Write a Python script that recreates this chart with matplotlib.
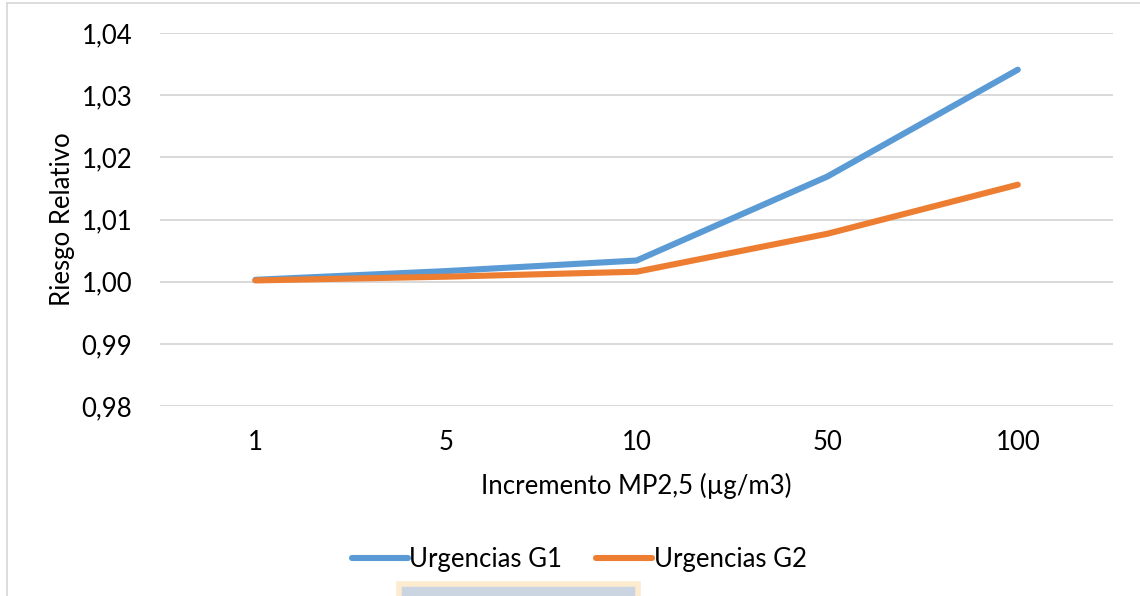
import matplotlib.pyplot as plt
from matplotlib.patches import Rectangle
from matplotlib.ticker import FuncFormatter

plt.rcParams['font.family'] = ['Lato', 'DejaVu Sans']

# Data
categorias = ['1', '5', '10', '50', '100']
urgencias_g1 = [1.0003, 1.0017, 1.0034, 1.0169, 1.0341]
urgencias_g2 = [1.0002, 1.0008, 1.0016, 1.0077, 1.0156]

fs = 18.5

fig = plt.figure(figsize=(11.4, 5.96), dpi=100)
ax = fig.add_axes([0.1404, 0.3188, 0.836, 0.6258])

x = range(len(categorias))
ax.plot(x, urgencias_g1, color='#5B9BD5', linewidth=4.4, solid_capstyle='round',
        solid_joinstyle='round', label='Urgencias G1')
ax.plot(x, urgencias_g2, color='#ED7D31', linewidth=4.4, solid_capstyle='round',
        solid_joinstyle='round', label='Urgencias G2')

ax.set_xlim(-0.5, len(categorias) - 0.5)
ax.set_ylim(0.98, 1.04)
ax.set_xticks(list(x))
ax.set_xticklabels(categorias)
ax.set_yticks([0.98, 0.99, 1.00, 1.01, 1.02, 1.03, 1.04])
ax.yaxis.set_major_formatter(FuncFormatter(lambda v, p: f'{v:.2f}'.replace('.', ',')))

ax.grid(axis='y', color='#D9D9D9', linewidth=1.4)
ax.set_axisbelow(True)
for s in ax.spines.values():
    s.set_visible(False)
ax.tick_params(length=0, labelsize=fs, colors='black')
ax.tick_params(axis='y', pad=20)
ax.tick_params(axis='x', pad=17)

ax.set_xlabel('Incremento MP2,5 (µg/m3)', fontsize=fs, labelpad=13)
ax.set_ylabel('Riesgo Relativo', fontsize=fs, labelpad=5)

leg = fig.legend(loc='center', bbox_to_anchor=(0.508, 0.062), ncol=2, frameon=False,
                 fontsize=fs, handlelength=2.2, handletextpad=0.05, columnspacing=1.3)

# chart area border (left and top) and the strip at the bottom
fig.add_artist(plt.Line2D([7 / 1140, 7 / 1140], [0, 1 - 3 / 596], color='#D9D9D9',
                          linewidth=1.3, transform=fig.transFigure))
fig.add_artist(plt.Line2D([7 / 1140, 1], [1 - 3 / 596, 1 - 3 / 596], color='#D9D9D9',
                          linewidth=1.3, transform=fig.transFigure))
fig.add_artist(Rectangle((399 / 1140, -0.01), 239 / 1140, 12 / 596 + 0.01,
                         transform=fig.transFigure, facecolor='#CBD5E1',
                         edgecolor='#FDEBD0', linewidth=4))

fig.savefig('out.png', dpi=100)
